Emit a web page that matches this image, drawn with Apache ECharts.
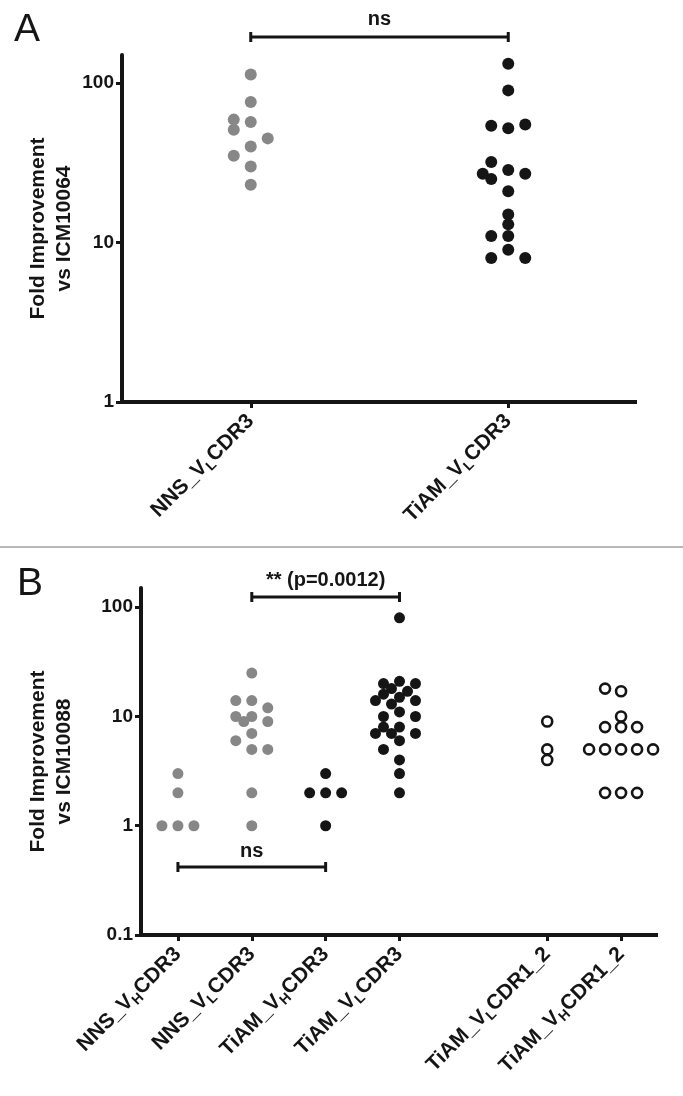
<!DOCTYPE html>
<html><head><meta charset="utf-8">
<script src="https://cdn.jsdelivr.net/npm/echarts@6/dist/echarts.min.js"></script>
<style>html,body{margin:0;padding:0;background:#fff}#c{width:683px;height:1096px}</style>
</head><body><div id="c"></div>
<script>
// ---------- data ----------
const catsA = ['NNS_VLCDR3', 'TiAM_VLCDR3'];
const nnsVL_A = [113, 76, 57, 59, 51, 40, 45, 35, 30, 23];
const tiamVL_A = [132, 90, 52, 54, 55, 28.5, 25, 27, 32, 27, 21, 15, 13, 11, 11, 9, 8, 8];
const yTicksA = [1, 10, 100];

const catsB = ['NNS_VHCDR3', 'NNS_VLCDR3', 'TiAM_VHCDR3', 'TiAM_VLCDR3', '', 'TiAM_VLCDR1_2', 'TiAM_VHCDR1_2'];
const nnsVH_B = [3, 2, 1, 1, 1];
const nnsVL_B = [25, 14, 14, 12, 10, 10, 9, 9, 7, 6, 5, 5, 2, 1];
const tiamVH_B = [3, 2, 2, 2, 1];
const tiamVL_B = [80, 21, 20, 20, 18, 17, 16, 15, 14, 14, 13, 11, 10, 10, 8, 8, 7, 7, 7, 6, 5, 4, 3, 2];
const tiamVLcdr12_B = [9, 4, 5];
const tiamVHcdr12_B = [17, 18, 10, 8, 8, 8, 5, 5, 5, 5, 5, 2, 2, 2];
const yTicksB = [0.1, 1, 10, 100];

const titleA = 'Fold Improvement\nvs ICM10064';
const titleB = 'Fold Improvement\nvs ICM10088';
const statA = 'ns';
const statB1 = '** (p=0.0012)';
const statB2 = 'ns';

// ---------- style ----------
const FONT = '"Liberation Sans", Arial, Helvetica, sans-serif';
const GRAY = '#878787', BLACK = '#151515';

function labelFmt(s) { return s.replace(/_V([LH])/, '_V{sub|$1}'); }

function xAxisCfg(gridIndex, data) {
  return {
    gridIndex, type: 'category', data, boundaryGap: true,
    axisLine: { show: true, lineStyle: { color: BLACK, width: 4, cap: 'butt' } },
    axisTick: { show: true, alignWithLabel: true, length: 6, lineStyle: { color: BLACK, width: 3 },
      interval: (i, v) => v !== '' },
    splitLine: { show: false },
    axisLabel: {
      rotate: 45, interval: 0, margin: 16, formatter: labelFmt,
      fontFamily: FONT, fontSize: 21, fontWeight: 'bold', color: BLACK, lineHeight: 26,
      rich: { sub: { fontFamily: FONT, fontSize: 14, fontWeight: 'bold', color: BLACK, verticalAlign: 'bottom', lineHeight: 26 } }
    }
  };
}
function yAxisCfg(gridIndex, ticks, max, name, gap) {
  return {
    gridIndex, type: 'log', logBase: 10, min: ticks[0], max,
    name, nameLocation: 'middle', nameRotate: 90, nameGap: gap, nameMoveOverlap: false,
    nameTextStyle: { fontFamily: FONT, fontSize: 21, fontWeight: 'bold', color: BLACK, lineHeight: 26 },
    axisLine: { show: true, lineStyle: { color: BLACK, width: 4 } },
    axisTick: { show: true, length: 6, customValues: ticks, lineStyle: { color: BLACK, width: 3 } },
    minorTick: { show: false },
    splitLine: { show: false },
    axisLabel: { show: true, margin: 8, customValues: ticks, fontFamily: FONT, fontSize: 19, fontWeight: 'bold', color: BLACK,
      formatter: v => String(+(+v).toPrecision(6)) }
  };
}

const groups = [
  { vals: nnsVL_A, grid: 0, cat: 0, color: GRAY, open: false },
  { vals: tiamVL_A, grid: 0, cat: 1, color: BLACK, open: false },
  { vals: nnsVH_B, grid: 1, cat: 0, color: GRAY, open: false },
  { vals: nnsVL_B, grid: 1, cat: 1, color: GRAY, open: false },
  { vals: tiamVH_B, grid: 1, cat: 2, color: BLACK, open: false },
  { vals: tiamVL_B, grid: 1, cat: 3, color: BLACK, open: false },
  { vals: tiamVLcdr12_B, grid: 1, cat: 5, color: BLACK, open: true },
  { vals: tiamVHcdr12_B, grid: 1, cat: 6, color: BLACK, open: true }
];
const dotSize = [12, 11], colStep = [17, 16];

function buildSeries(offsets) {
  return groups.map((g, i) => ({
    type: 'scatter', xAxisIndex: g.grid, yAxisIndex: g.grid,
    symbol: 'circle', symbolSize: g.open ? 10 : dotSize[g.grid],
    itemStyle: g.open ? { color: '#fff', borderColor: g.color, borderWidth: 2.6, opacity: 1 }
                      : { color: g.color, opacity: 1 },
    emphasis: { disabled: true },
    data: g.vals.map((v, j) => ({ value: [g.cat, v], symbolOffset: [offsets ? offsets[i][j] : 0, 0] }))
  }));
}

const chart = echarts.init(document.getElementById('c'), null, { renderer: 'canvas' });
chart.setOption({
  animation: false,
  backgroundColor: '#fff',
  grid: [
    { left: 122, right: 46, top: 55, bottom: 694 },
    { left: 141, right: 25, top: 588, bottom: 161 }
  ],
  xAxis: [xAxisCfg(0, catsA), xAxisCfg(1, catsB)],
  yAxis: [yAxisCfg(0, yTicksA, 150, titleA, 45), yAxisCfg(1, yTicksB, 150, titleB, 64)],
  series: buildSeries(null)
});

// beeswarm horizontal spreading (layout only)
const cands = [0, -1, 1, -0.5, 0.5, -1.5, 1.5, -2, 2, -2.5, 2.5, -3, 3];
const offsets = groups.map(g => {
  const placed = [];
  const step = colStep[g.grid], d = dotSize[g.grid] * 0.8;
  return g.vals.map(v => {
    const y = chart.convertToPixel({ yAxisIndex: g.grid }, v);
    let dx = 0;
    for (const c of cands) {
      const x = c * step;
      if (placed.every(p => Math.hypot(p.x - x, p.y - y) >= d)) { dx = x; break; }
    }
    placed.push({ x: dx, y });
    return dx;
  });
});

function px(grid, cat) { return chart.convertToPixel({ xAxisIndex: grid }, cat); }
function bracket(x1, x2, y, label, ly) {
  return [
    { type: 'line', shape: { x1, y1: y, x2, y2: y }, style: { stroke: BLACK, lineWidth: 3 } },
    { type: 'line', shape: { x1, y1: y - 5, x2: x1, y2: y + 5 }, style: { stroke: BLACK, lineWidth: 3 } },
    { type: 'line', shape: { x1: x2, y1: y - 5, x2, y2: y + 5 }, style: { stroke: BLACK, lineWidth: 3 } },
    { type: 'text', x: (x1 + x2) / 2, y: ly, style: { text: label, fill: BLACK, font: 'bold 20px ' + FONT, textAlign: 'center', textVerticalAlign: 'middle' } }
  ];
}
const graphics = [
  { type: 'text', x: 14, y: 30, style: { text: 'A', fill: BLACK, font: '39px ' + FONT, textVerticalAlign: 'middle' } },
  { type: 'text', x: 17, y: 584, style: { text: 'B', fill: BLACK, font: '39px ' + FONT, textVerticalAlign: 'middle' } },
  { type: 'line', shape: { x1: 0, y1: 547, x2: 683, y2: 547 }, style: { stroke: '#a0a0a0', lineWidth: 1.5 } },
  ...bracket(px(0, 0), px(0, 1), 37, statA, 19),
  ...bracket(px(1, 1), px(1, 3), 597, statB1, 580),
  ...bracket(px(1, 0), px(1, 2), 867, statB2, 851)
];

chart.setOption({ series: buildSeries(offsets), graphic: graphics });
</script></body></html>
